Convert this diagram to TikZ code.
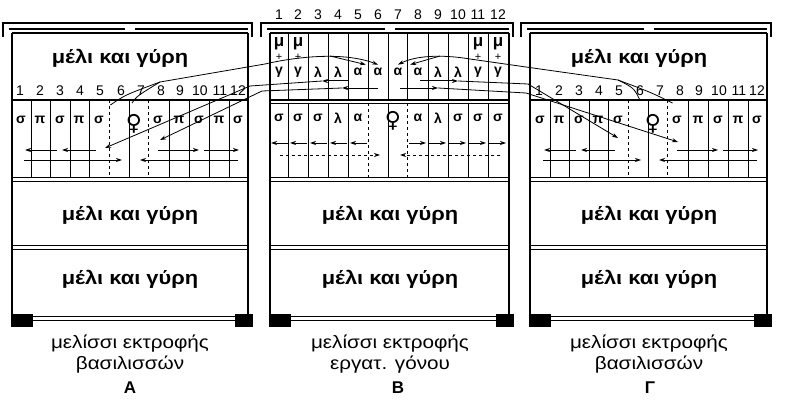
\documentclass[tikz,border=0pt]{standalone}
\usepackage{fontspec}
\setmainfont{Liberation Sans}
\newfontfamily\widef[FakeStretch=1.15]{Liberation Sans}
\newfontfamily\symf{DejaVu Sans}
\usetikzlibrary{arrows.meta}
\begin{document}
\begin{tikzpicture}[x=1pt,y=-1pt,
 wall/.style={line width=1.6pt},
 thin/.style={line width=0.8pt},
 arr/.style={line width=0.8pt,-{Stealth[length=6pt,width=4pt]}},
 honey/.style={font=\widef\bfseries\fontsize{19}{20}\selectfont},
 captxt/.style={font=\widef\fontsize{18}{21}\selectfont,align=center},
 lbl/.style={font=\bfseries\fontsize{17}{17}\selectfont},
 num/.style={font=\fontsize{14}{14}\selectfont},
 cell/.style={font=\bfseries\fontsize{14}{14}\selectfont},
 queen/.style={font=\symf\bfseries\fontsize{22}{22}\selectfont}]
\useasboundingbox (0,0) rectangle (790,401);
\fill[white] (0,0) rectangle (790,401);
% ---------- generic hive body ----------
\foreach \L/\R in {12/248, 270/509, 530/767}{
 \draw[wall] (\L,33) -- (\L,327);
 \draw[wall] (\R,33) -- (\R,327);
 \draw[wall] (\L,33) -- (\R,33);
 \draw[thin] (\L,177) -- (\R,177);
 \draw[thin] (\L,181) -- (\R,181);
 \draw[thin] (\L,245) -- (\R,245);
 \draw[thin] (\L,249) -- (\R,249);
 \draw[thin] (\L+21,316) -- (\R-13,316);
 \draw[thin] (\L+21,320) -- (\R-13,320);
 \fill (\L+1,314) rectangle (\L+21,327);
 \fill (\R-13,314) rectangle (\R+5,327);
 \draw[line width=2pt] (\L-9,37) -- (\L-9,23) -- (\R+4,23) -- (\R+4,37);
 \draw[line width=2.6pt] (\L-3,29) -- ({(\L+\R)/2-5},29);
 \draw[line width=2.6pt] ({(\L+\R)/2+5},29) -- (\R,29);
}
% ---------- hive A and C (queen rearing) ----------
\foreach \o/\nm in {0/A, 519/C}{
 \begin{scope}[xshift=\o]
 \draw[wall] (12,100) -- (248,100);
 \foreach \x in {31,50,70,89,129,169,189,209,229} \draw[thin] (\x,100) -- (\x,177);
 \foreach \x in {109,148} \draw[thin,dashed] (\x,100) -- (\x,177);
 \foreach \x/\n in {20/1,40/2,60/3,80/4,100/5,121/6,141/7,161/8,180/9,200/10,220/11,238/12}
   \node[num] (\nm n\n) at (\x,91) {\n};
 \foreach \x/\t [count=\i] in {21/σ,40/π,60/σ,79/π,99/σ,158/σ,179/π,199/σ,219/π,238/σ}
   \node[cell] (\nm c\i) at (\x,120) {\t};
 \node[queen] (\nm q) at (134,124) {♀};
 \coordinate (\nm a1) at (57,150); \coordinate (\nm a1e) at (25,150);
 \coordinate (\nm a2) at (96,150); \coordinate (\nm a2e) at (62,150);
 \coordinate (\nm a3) at (158,150); \coordinate (\nm a3e) at (199,150);
 \coordinate (\nm a4) at (204,150); \coordinate (\nm a4e) at (239,150);
 \coordinate (\nm b1) at (24,160); \coordinate (\nm b1e) at (122,160);
 \coordinate (\nm b2) at (238,160); \coordinate (\nm b2e) at (140,160);
 \draw[arr] (\nm a1) -- (\nm a1e); \draw[arr] (\nm a2) -- (\nm a2e);
 \draw[arr] (\nm a3) -- (\nm a3e); \draw[arr] (\nm a4) -- (\nm a4e);
 \draw[arr] (\nm b1) -- (\nm b1e); \draw[arr] (\nm b2) -- (\nm b2e);
 \node[honey] (\nm h1) at (120,58) {μέλι και γύρη};
 \node[honey] (\nm h2) at (130,215) {μέλι και γύρη};
 \node[honey] (\nm h3) at (130,279) {μέλι και γύρη};
 \node[captxt] (\nm cap) at (130,354) {μελίσσι εκτροφής\\βασιλισσών};
 \end{scope}
}
\node[lbl] (lA) at (130,388) {Α};
\node[lbl] (lC) at (650,388) {Γ};
% ---------- hive B ----------
\draw[wall] (270,100) -- (509,100);
\draw[thin] (270,103) -- (509,103);
\foreach \x in {288,308,328,348,368,388,407,428,448,468,488} \draw[thin] (\x,33) -- (\x,100);
\foreach \x in {288,308,328,348,388,428,448,468,488} \draw[thin] (\x,103) -- (\x,177);
\foreach \x in {368,407} \draw[thin,dashed] (\x,103) -- (\x,177);
\foreach \x/\n in {279/1,298/2,318/3,338/4,358/5,378/6,398/7,418/8,438/9,458/10,478/11,498/12}
  \node[num] (Bn\n) at (\x,15) {\n};
\foreach \x/\n in {279/1,298/2,478/3,498/4}{
  \node[cell,font=\bfseries\fontsize{17}{17}\selectfont] (Bm\n) at (\x,44) {μ};
  \node[font=\fontsize{11}{11}\selectfont] (Bp\n) at (\x,57) {+};}
\foreach \x/\t [count=\i] in {279/γ,298/γ,318/λ,338/λ,358/α,378/α,398/α,418/α,438/λ,458/λ,478/γ,498/γ}
  \node[cell] (Bt\i) at (\x,72) {\t};
\foreach \x/\t [count=\i] in {279/σ,298/σ,318/σ,338/λ,358/α,418/α,438/λ,458/σ,478/σ,498/σ}
  \node[cell] (Bl\i) at (\x,118) {\t};
\node[queen] (Bq) at (393,121) {♀};
\foreach \c in {279,298,318,338,358}{
  \draw[arr] (\c+9,143) -- (\c-8,143);}
\foreach \c in {418,438,458,478,498}{
  \draw[arr] (\c-9,143) -- (\c+8,143);}
\coordinate (Bd1) at (280,155); \coordinate (Bd1e) at (380,155);
\coordinate (Bd2) at (500,155); \coordinate (Bd2e) at (400,155);
\draw[arr,dashed] (Bd1) -- (Bd1e);
\draw[arr,dashed] (Bd2) -- (Bd2e);
% top-row arrows in B
\draw[arr,line width=1pt] (348,81) -- (322,81);
\draw[arr] (378,88) -- (342,88);
\draw[arr,line width=1pt] (420,81) -- (458,81);
\draw[arr] (400,88) -- (438,88);
\node[lbl] (lB) at (398,388) {Β};
\node[captxt] (Bcap) at (390,354) {μελίσσι εκτροφής\\εργατ. γόνου};
\node[honey] (Bh2) at (390,215) {μέλι και γύρη};
\node[honey] (Bh3) at (390,279) {μέλι και γύρη};
% ---------- transfer lines ----------
\coordinate (LpA) at (160,82);
\coordinate (Lpk) at (330,56);
\draw[arr] (Aq.north west) ++(-12,-6) .. controls (125,95) .. (LpA) -- (265,64) .. controls (300,56) and (345,52) .. (Bt6.north);
\draw[thin] (Aq.north) ++(-2,-8) .. controls (137,96) .. (LpA);
\draw[arr] (Lpk) -- (Bt5.north east);
\draw[thin] (322,81) -- (250,86);
\draw[arr] (250,86) -- (105,148);
\draw[thin] (342,88) -- (262,91);
\draw[arr] (262,91) -- (160,140);
\coordinate (Rp) at (440,56);
\coordinate (RpC) at (618,80);
\draw[arr] (Cq.north west) ++(-1,-10) .. controls (634,88) .. (RpC) -- (540,69) -- (470,59) .. controls (440,54) and (415,56) .. (Bt7.north);
\draw[thin] (Cq.north east) ++(8,-8) .. controls (650,92) .. (RpC);
\draw[arr] (Rp) -- (Bt8.north west);
\draw[thin] (458,81) -- (528,84);
\draw[arr] (528,84) -- (618,138);
\draw[thin] (438,88) -- (526,93);
\draw[arr] (526,93) -- (678,142);
\end{tikzpicture}
\end{document}
